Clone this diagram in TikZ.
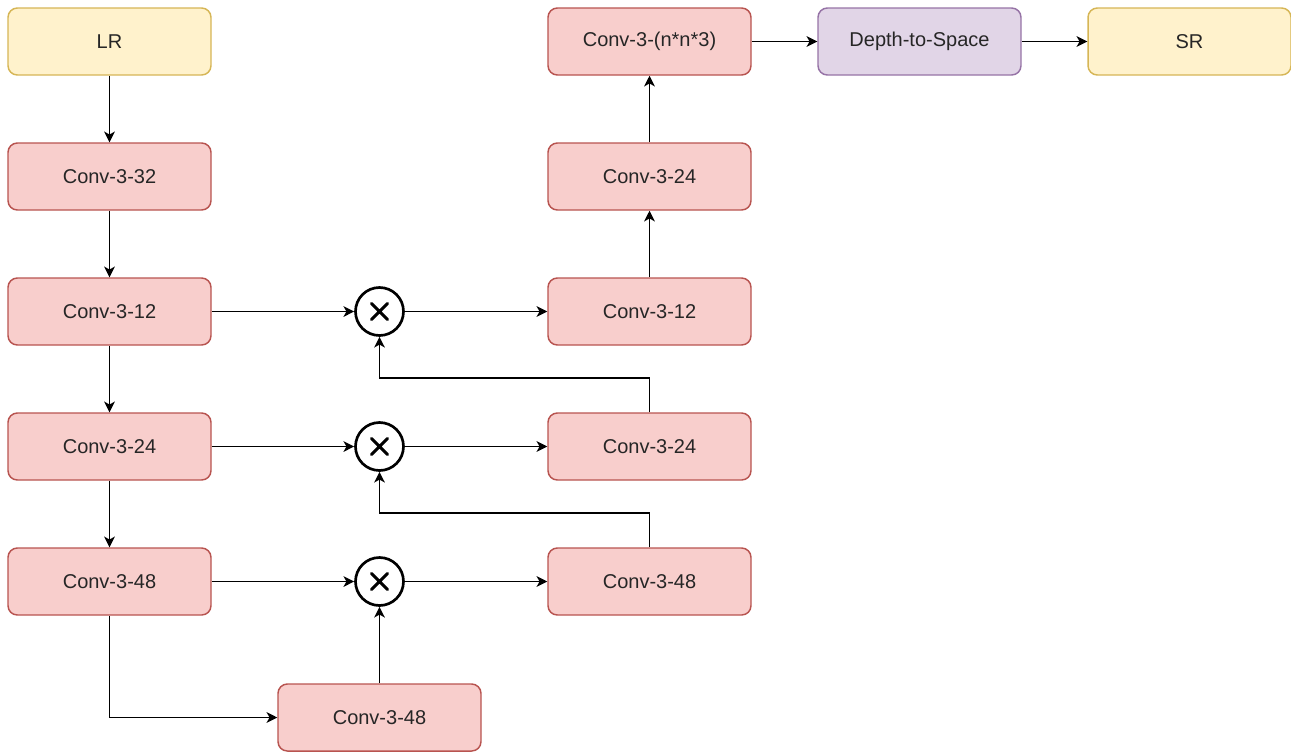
\documentclass[tikz,border=0pt]{standalone}
\usepackage{fontspec}
\setmainfont{Liberation Sans}
\usetikzlibrary{arrows.meta,positioning,calc}
\definecolor{yfill}{HTML}{FFF2CC}
\definecolor{ydraw}{HTML}{D6B656}
\definecolor{rfill}{HTML}{F8CECC}
\definecolor{rdraw}{HTML}{B85450}
\definecolor{pfill}{HTML}{E1D5E7}
\definecolor{pdraw}{HTML}{9673A6}
\tikzset{
  blk/.style={rectangle, rounded corners=7pt, line width=1.1pt,
    minimum width=152.25pt, minimum height=50.25pt, inner sep=0pt,
    font=\fontsize{15}{18}\selectfont, text=black!85},
  io/.style={blk, fill=yfill, draw=ydraw},
  conv/.style={blk, fill=rfill, draw=rdraw},
  d2s/.style={blk, fill=pfill, draw=pdraw},
  mult/.style={circle, draw=black, line width=2pt, fill=white,
    minimum size=36pt, inner sep=0pt},
  link/.style={line width=1.2pt, draw=black,
    -{Stealth[length=8pt,width=8pt,inset=2.2pt]}},
}
\begin{document}
\begin{tikzpicture}[x=0.75pt,y=-0.75pt]
\useasboundingbox (0,0) rectangle (1291,751);
% encoder column
\node[io]   (lr)  at (109.5,41.5)  {LR};
\node[conv] (c32) at (109.5,176.5) {Conv-3-32};
\node[conv] (c12) at (109.5,311.5) {Conv-3-12};
\node[conv] (c24) at (109.5,446.5) {Conv-3-24};
\node[conv] (c48) at (109.5,581.5) {Conv-3-48};
\node[conv] (b48) at (379.5,717.5) {Conv-3-48};
% element-wise products
\foreach \n/\y in {x1/311.5, x2/446.5, x3/581.5}{
  \node[mult] (\n) at (379.5,\y) {};
  \draw[line width=2.3pt,line cap=round] ($(\n)+(-8,-8)$) -- ($(\n)+(8,8)$)
    ($(\n)+(-8,8)$) -- ($(\n)+(8,-8)$);
}
% decoder column
\node[conv] (rn)  at (649.5,41.5)  {Conv-3-(n*n*3)};
\node[conv] (r24t) at (649.5,176.5) {Conv-3-24};
\node[conv] (r12) at (649.5,311.5) {Conv-3-12};
\node[conv] (r24) at (649.5,446.5) {Conv-3-24};
\node[conv] (r48) at (649.5,581.5) {Conv-3-48};
\node[d2s]  (ds)  at (919.5,41.5)  {Depth-to-Space};
\node[io]   (sr)  at (1189.5,41.5) {SR};
% connectors
\draw[link] (lr) -- (c32);
\draw[link] (c32) -- (c12);
\draw[link] (c12) -- (c24);
\draw[link] (c24) -- (c48);
\draw[link] (c48.south) |- (b48.west);
\draw[link] (b48) -- (x3);
\draw[link] (c12) -- (x1);
\draw[link] (c24) -- (x2);
\draw[link] (c48) -- (x3);
\draw[link] (x1) -- (r12);
\draw[link] (x2) -- (r24);
\draw[link] (x3) -- (r48);
\draw[link] (r24.north) -- ++(0,-34) -| (x1.south);
\draw[link] (r48.north) -- ++(0,-34) -| (x2.south);
\draw[link] (r12) -- (r24t);
\draw[link] (r24t) -- (rn);
\draw[link] (rn) -- (ds);
\draw[link] (ds) -- (sr);
\end{tikzpicture}
\end{document}
